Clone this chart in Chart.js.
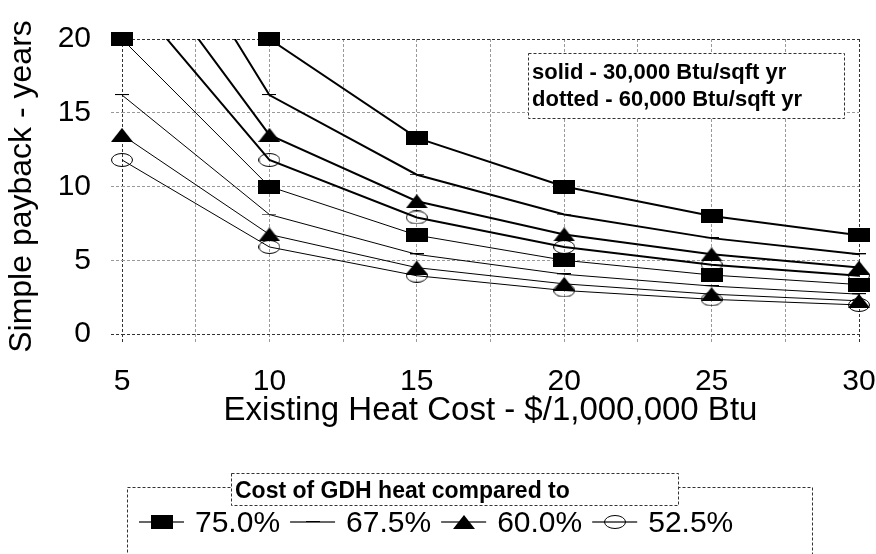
<!DOCTYPE html>
<html lang="en">
<head>
<meta charset="UTF-8">
<title>Simple payback vs existing heat cost</title>
<script src="https://cdn.jsdelivr.net/npm/chart.js"></script>
<style>
  html, body { margin: 0; padding: 0; background: #fff; }
</style>
</head>
<body>
<canvas id="chart" width="876" height="554"></canvas>
<script>
const heatCost = [5, 10, 15, 20, 25, 30];
const shares = ['75.0%', '67.5%', '60.0%', '52.5%'];

// solid - 30,000 Btu/sqft yr (the upper curves start above the 20 yr top of the axis)
const solid750 = [null, 20, 13.3, 10, 8, 6.7];
const solid675 = [32.4, 16.2, 10.8, 8.1, 6.5, 5.4];
const solid600 = [27, 13.5, 9, 6.75, 5.4, 4.5];
const solid525 = [23.6, 11.8, 7.9, 5.9, 4.7, 3.95];

// dotted - 60,000 Btu/sqft yr
const dotted750 = [20, 10, 6.7, 5, 4, 3.35];
const dotted675 = [16.2, 8.1, 5.4, 4.05, 3.25, 2.7];
const dotted600 = [13.5, 6.75, 4.5, 3.4, 2.7, 2.25];
const dotted525 = [11.8, 5.9, 3.95, 2.95, 2.35, 1.97];

const xTicks = [5, 10, 15, 20, 25, 30];
const yTicks = [0, 5, 10, 15, 20];
const noteLines = ['solid - 30,000 Btu/sqft yr', 'dotted - 60,000 Btu/sqft yr'];
const legendTitle = 'Cost of GDH heat compared to';

const FONT = 'Liberation Sans, Arial, sans-serif';
Chart.defaults.font.family = FONT;
Chart.defaults.color = '#000';

function makeMarker(kind) {
  const c = document.createElement('canvas');
  c.width = kind === 'dash' ? 14 : 22;
  c.height = kind === 'dash' ? 2 : 14;
  const g = c.getContext('2d');
  const w = c.width, h = c.height;
  g.fillStyle = '#000';
  g.strokeStyle = '#000';
  g.lineWidth = 1;
  if (kind === 'square') {
    g.fillRect(0, 0, w, h);
  } else if (kind === 'triangle') {
    g.beginPath();
    g.moveTo(w / 2, 0);
    g.lineTo(w, h);
    g.lineTo(0, h);
    g.closePath();
    g.fill();
  } else if (kind === 'ellipse') {
    g.beginPath();
    g.ellipse(w / 2, h / 2, w / 2 - 0.5, h / 2 - 0.5, 0, 0, Math.PI * 2);
    g.stroke();
  } else {
    g.fillRect(0, 0, w, 1);
  }
  return c;
}
const markers = [makeMarker('square'), makeMarker('dash'), makeMarker('triangle'), makeMarker('ellipse')];

const lineSets = [];
const markerSets = [];
function addSeries(values, i, width) {
  const pts = heatCost.map((x, j) => ({ x: x, y: values[j] }));
  // the line is clipped to the plot, the markers are not (they sit on the edges)
  lineSets.push({ data: pts, borderColor: '#000', borderWidth: width, pointRadius: 0, tension: 0 });
  markerSets.push({
    data: pts.filter(p => p.y !== null && p.y <= 20),
    showLine: false, clip: false,
    pointStyle: markers[i], pointRadius: 10
  });
}
[solid750, solid675, solid600, solid525].forEach((v, i) => addSeries(v, i, 2));
[dotted750, dotted675, dotted600, dotted525].forEach((v, i) => addSeries(v, i, 1));

const edgeColor = (lo, hi) => ctx => (ctx.tick && (ctx.tick.value === lo || ctx.tick.value === hi)) ? '#333' : '#999';

const extras = {
  id: 'extras',
  afterDraw(chart) {
    const ctx = chart.ctx;
    ctx.save();
    ctx.lineWidth = 1;
    ctx.strokeStyle = '#333';
    ctx.setLineDash([3, 2]);

    // note box in the plot
    ctx.fillStyle = '#fff';
    ctx.fillRect(528, 53, 316, 65);
    ctx.strokeRect(528.5, 53.5, 316, 65);
    ctx.fillStyle = '#000';
    ctx.font = 'bold 22px ' + FONT;
    ctx.textBaseline = 'alphabetic';
    ctx.fillText(noteLines[0], 532, 79);
    ctx.fillText(noteLines[1], 532, 106);

    // legend boxes
    ctx.strokeRect(127.5, 487.5, 685, 100);
    ctx.fillStyle = '#fff';
    ctx.fillRect(231, 473, 447, 32);
    ctx.strokeRect(231.5, 473.5, 447, 32);
    ctx.fillStyle = '#000';
    ctx.font = 'bold 23px ' + FONT;
    ctx.fillText(legendTitle, 235, 498);

    // legend items
    ctx.setLineDash([]);
    ctx.font = '30px ' + FONT;
    let x = 139;
    const y = 522;
    shares.forEach((label, i) => {
      ctx.lineWidth = 1.5;
      ctx.beginPath();
      ctx.moveTo(x, y);
      ctx.lineTo(x + 45, y);
      ctx.stroke();
      const m = markers[i];
      ctx.drawImage(m, Math.round(x + 22.5 - m.width / 2), Math.round(y - m.height / 2));
      ctx.fillText(label, x + 56, 532);
      x += 56 + ctx.measureText(label).width + 10;
    });
    ctx.restore();
  }
};

new Chart(document.getElementById('chart'), {
  type: 'line',
  data: { datasets: lineSets.concat(markerSets) },
  options: {
    responsive: false,
    animation: false,
    layout: { padding: { top: 39, right: 17, bottom: 110, left: 0 } },
    plugins: { legend: { display: false }, tooltip: { enabled: false } },
    scales: {
      x: {
        type: 'linear', min: 5, max: 30,
        ticks: {
          stepSize: 2.5, autoSkip: false, maxRotation: 0, padding: 20,
          font: { size: 30 },
          callback: v => xTicks.includes(v) ? v : ''
        },
        grid: { color: edgeColor(5, 30), tickLength: 10, tickBorderDash: [3, 2] },
        border: { display: false, dash: [3, 2] },
        title: {
          display: true, text: 'Existing Heat Cost - $/1,000,000 Btu',
          font: { size: 33 }, padding: { top: 0, bottom: 13 }
        },
        afterFit: s => { s.height = 110; s.paddingLeft = 0; s.paddingRight = 0; }
      },
      y: {
        min: 0, max: 20,
        ticks: {
          stepSize: 2.5, padding: 20,
          font: { size: 30 },
          callback: v => yTicks.includes(v) ? v : ''
        },
        grid: { color: edgeColor(0, 20), tickLength: 11, tickBorderDash: [3, 2] },
        border: { display: false, dash: [3, 2] },
        title: {
          display: true, text: 'Simple payback - years',
          font: { size: 32 }, padding: { top: 3, bottom: 0 }
        },
        afterFit: s => { s.width = 122; }
      }
    }
  },
  plugins: [extras]
});
</script>
</body>
</html>
